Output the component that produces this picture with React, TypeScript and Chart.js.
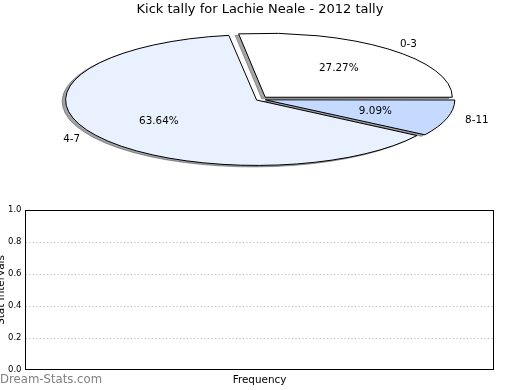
import React, { useEffect, useRef } from "react";
import { Chart, registerables } from "chart.js";

Chart.register(...registerables);

// ---- data ----
const chartTitle = "Kick tally for Lachie Neale - 2012 tally";
const sliceLabels = ["0-3", "4-7", "8-11"];
const sliceValues = [3, 7, 1];
const sliceColors = ["#ffffff", "#eaf1fe", "#c6d9fe"];
const sliceExplode = [0.043, 0.043, 0.043];

const yTickValues = [0, 0.2, 0.4, 0.6, 0.8, 1.0];
const freqCategories: string[] = [];
const freqValues: number[] = [];
const xAxisTitle = "Frequency";
const yAxisTitle = "Stat Intervals";
const watermark = "Dream-Stats.com";

// ---- styling / geometry ----
const FONT = "'DejaVu Sans', sans-serif";
const PIE_RX = 187;
const PIE_RY = 64;
const K = PIE_RY / PIE_RX;
const SHADOW_DX = -3.5;
const SHADOW_DY = 1.5;

function shadowOf(hex: string): string {
  const h = hex.replace("#", "");
  const r = parseInt(h.slice(0, 2), 16);
  const g = parseInt(h.slice(2, 4), 16);
  const b = parseInt(h.slice(4, 6), 16);
  return `rgba(${Math.round(r * 0.3)},${Math.round(g * 0.3)},${Math.round(b * 0.3)},0.5)`;
}

function applyEllipse(ctx: CanvasRenderingContext2D, cx: number, cy: number) {
  ctx.translate(cx, cy);
  ctx.scale(1, K);
  ctx.translate(-cx, -cy);
}

export default function App() {
  const pieRef = useRef<HTMLCanvasElement | null>(null);
  const barRef = useRef<HTMLCanvasElement | null>(null);

  useEffect(() => {
    const total = sliceValues.reduce((a, b) => a + b, 0);
    const order = sliceValues.map((_, i) => sliceValues.length - 1 - i); // clockwise from 3 o'clock
    const pieData = order.map((i) => sliceValues[i]);
    const pieColors = order.map((i) => sliceColors[i]);
    const pieLabels = order.map((i) => sliceLabels[i]);
    const pieOffsets = order.map((i) => {
      const circ = (2 * Math.PI * sliceValues[i]) / total;
      const fix = 1 - Math.sin(Math.min(Math.PI, circ));
      return (4 * sliceExplode[i] * PIE_RX) / (1 + fix);
    });

    let savedStroke = false;
    const ellipsePlugin = {
      id: "ellipsePie",
      beforeDatasetsDraw(chart: any) {
        const ctx: CanvasRenderingContext2D = chart.ctx;
        const arcs = chart.getDatasetMeta(0).data as any[];
        if (!arcs.length) return;
        const cx = arcs[0].x;
        const cy = arcs[0].y;
        const base = ctx.getTransform();
        (ctx as any).stroke = function (this: CanvasRenderingContext2D) {
          this.save();
          this.setTransform(base);
          CanvasRenderingContext2D.prototype.stroke.call(this);
          this.restore();
        };
        savedStroke = true;
        // shadows
        arcs.forEach((arc: any, j: number) => {
          const orig = arc.options;
          const shade = shadowOf(pieColors[j]);
          ctx.save();
          ctx.translate(SHADOW_DX, SHADOW_DY);
          applyEllipse(ctx, cx, cy);
          arc.options = Object.assign({}, orig, { backgroundColor: shade, borderColor: shade });
          arc.draw(ctx);
          arc.options = orig;
          ctx.restore();
        });
        ctx.save();
        applyEllipse(ctx, cx, cy);
      },
      afterDatasetsDraw(chart: any) {
        const ctx: CanvasRenderingContext2D = chart.ctx;
        const arcs = chart.getDatasetMeta(0).data as any[];
        if (!arcs.length) return;
        ctx.restore();
        if (savedStroke) {
          delete (ctx as any).stroke;
          savedStroke = false;
        }
        ctx.save();
        ctx.font = `10.4px ${FONT}`;
        ctx.fillStyle = "#000";
        ctx.textBaseline = "middle";
        arcs.forEach((arc: any, j: number) => {
          const i = order[j];
          const mid = (arc.startAngle + arc.endAngle) / 2;
          const c = Math.cos(mid);
          const s = Math.sin(mid);
          const d = sliceExplode[i] * PIE_RX;
          const lr = d + 1.1 * PIE_RX;
          const pr = d + 0.6 * PIE_RX;
          ctx.textAlign = c > 0 ? "left" : "right";
          ctx.fillText(sliceLabels[i], arc.x + lr * c, arc.y + K * lr * s);
          ctx.textAlign = "center";
          const pct = ((sliceValues[i] / total) * 100).toFixed(2) + "%";
          ctx.fillText(pct, arc.x + pr * c, arc.y + K * pr * s);
        });
        ctx.restore();
      },
    };

    const pie = new Chart(pieRef.current as HTMLCanvasElement, {
      type: "pie",
      data: {
        labels: pieLabels,
        datasets: [
          {
            data: pieData,
            backgroundColor: pieColors,
            borderColor: "#000000",
            borderWidth: 1,
            offset: pieOffsets,
            radius: PIE_RX,
            rotation: 90,
            clip: false,
          } as any,
        ],
      },
      options: {
        animation: false,
        responsive: false,
        events: [],
        rotation: 90,
        radius: PIE_RX,
        layout: { padding: { top: 0, left: 0, right: 0, bottom: 209 } },
        plugins: {
          legend: { display: false },
          tooltip: { enabled: false },
          title: {
            display: true,
            text: chartTitle,
            color: "#000",
            font: { family: FONT, size: 13, weight: "normal" },
            padding: { top: 2, bottom: 0 },
          },
        },
      } as any,
      plugins: [ellipsePlugin],
    });

    const framePlugin = {
      id: "frameAndMark",
      afterDraw(chart: any) {
        const ctx: CanvasRenderingContext2D = chart.ctx;
        const a = chart.chartArea;
        ctx.save();
        ctx.strokeStyle = "#000";
        ctx.lineWidth = 1;
        const l = Math.floor(a.left) + 0.5;
        const r = Math.floor(a.right) + 0.5;
        const t = Math.floor(a.top) + 0.5;
        const b = Math.floor(a.bottom) - 0.5;
        ctx.strokeRect(l, t, r - l, b - t);
        ctx.font = `11.7px ${FONT}`;
        ctx.fillStyle = "#808080";
        ctx.textAlign = "left";
        ctx.textBaseline = "middle";
        ctx.fillText(watermark, 10, 380);
        ctx.restore();
      },
    };

    const bar = new Chart(barRef.current as HTMLCanvasElement, {
      type: "bar",
      data: {
        labels: freqCategories,
        datasets: [{ label: xAxisTitle, data: freqValues, backgroundColor: "#c6d9fe" }],
      },
      options: {
        animation: false,
        responsive: false,
        events: [],
        layout: { padding: { left: 0, right: 26.5, top: 210, bottom: 0 } },
        plugins: { legend: { display: false }, tooltip: { enabled: false } },
        scales: {
          x: {
            display: true,
            grid: { display: false, drawTicks: false },
            border: { display: false },
            ticks: { display: false },
            title: {
              display: true,
              text: xAxisTitle,
              color: "#000",
              font: { family: FONT, size: 10.4 },
              padding: { top: 0, bottom: 3.4 },
            },
            afterFit: (s: any) => {
              s.height = 20;
            },
          },
          y: {
            min: 0,
            max: 1,
            afterBuildTicks: (s: any) => {
              s.ticks = yTickValues.map((v) => ({ value: v }));
            },
            ticks: {
              color: "#000",
              font: { family: FONT, size: 8.5 },
              padding: 4,
              callback: (v: any) => Number(v).toFixed(1),
            },
            grid: {
              drawTicks: false,
              lineWidth: 1,
              color: (c: any) =>
                c.tick && (c.tick.value === 0 || c.tick.value === 1) ? "rgba(0,0,0,0)" : "#b4b4b4",
            },
            border: { display: false, dash: [1, 2.5] },
            title: {
              display: true,
              text: yAxisTitle,
              color: "#000",
              font: { family: FONT, size: 10.4 },
              padding: { top: 4.8, bottom: 0 },
            },
            afterFit: (s: any) => {
              s.width = 35.5;
            },
          },
        },
      } as any,
      plugins: [framePlugin],
    });

    return () => {
      pie.destroy();
      bar.destroy();
    };
  }, []);

  return (
    <div
      style={{
        position: "fixed",
        left: 0,
        top: 0,
        width: 520,
        height: 390,
        overflow: "hidden",
        background: "#ffffff",
      }}
    >
      <canvas
        ref={barRef}
        width={530}
        height={390}
        style={{ position: "absolute", left: -10, top: 0, width: 530, height: 390 }}
      />
      <canvas
        ref={pieRef}
        width={520}
        height={390}
        style={{ position: "absolute", left: 0, top: 0, width: 520, height: 390, pointerEvents: "none" }}
      />
    </div>
  );
}
